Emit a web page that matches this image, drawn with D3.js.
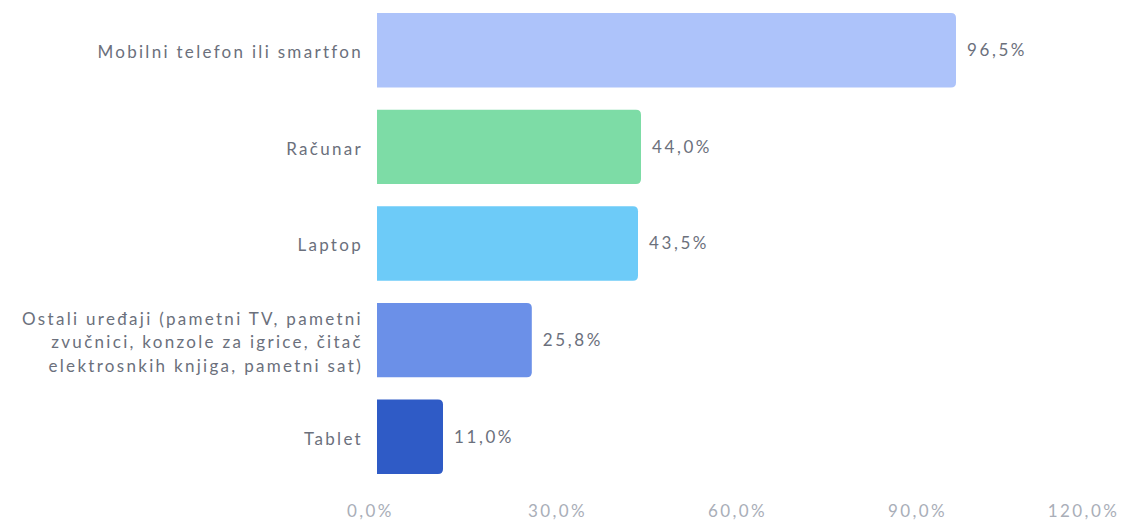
<!DOCTYPE html>
<html>
<head>
<meta charset="utf-8">
<script src="https://cdn.jsdelivr.net/npm/d3@7"></script>
<style>
  html, body { margin: 0; padding: 0; background: #ffffff; }
  svg { display: block; }
  text { font-family: "Lato", "Noto Sans", sans-serif; }
</style>
</head>
<body>
<svg id="chart" width="1128" height="523"></svg>
<script>
// Device usage shares (percent)
const categories = [
  "Mobilni telefon ili smartfon",
  "Računar",
  "Laptop",
  "Ostali uređaji (pametni TV, pametni|zvučnici, konzole za igrice, čitač|elektrosnkih knjiga, pametni sat)",
  "Tablet"
];
const values = [96.5, 44.0, 43.5, 25.8, 11.0];
const barColors = ["#adc3fa", "#7ddca6", "#6dcbf8", "#6b90e8", "#2f5bc6"];
const tickValues = [0, 30, 60, 90, 120];

const fmt = v => v.toFixed(1).replace(".", ",") + "%";

const svg = d3.select("#chart");
const left = 377, right = 1097;

const x = d3.scaleLinear().domain([0, 120]).range([left, right]);
const y = d3.scaleBand()
  .domain(categories)
  .range([2, 485])
  .paddingInner(0.23)
  .paddingOuter(0.115);

// bar shape with rounded right-hand corners
function barPath(x0, y0, w, h, r) {
  r = Math.min(r, w, h / 2);
  return `M${x0},${y0}H${x0 + w - r}Q${x0 + w},${y0} ${x0 + w},${y0 + r}` +
         `V${y0 + h - r}Q${x0 + w},${y0 + h} ${x0 + w - r},${y0 + h}H${x0}Z`;
}

svg.append("g").selectAll("path")
  .data(categories)
  .join("path")
  .attr("d", (c, i) => barPath(x(0), y(c), x(values[i]) - x(0), y.bandwidth(), 5))
  .attr("fill", (c, i) => barColors[i]);

// value labels
svg.append("g").selectAll("text")
  .data(categories)
  .join("text")
  .attr("x", (c, i) => x(values[i]) + 11)
  .attr("y", c => y(c) + y.bandwidth() / 2)
  .attr("dy", "0.35em")
  .attr("fill", "#6b707c")
  .attr("font-size", 17)
  .attr("letter-spacing", 2.6)
  .text((c, i) => fmt(values[i]));

// category labels (multi-line where needed)
const catG = svg.append("g");
categories.forEach(c => {
  const lines = c.split("|");
  const lh = 23.5;
  const cy = y(c) + y.bandwidth() / 2 + 2;
  const t = catG.append("text")
    .attr("text-anchor", "end")
    .attr("fill", "#6b707c")
    .attr("font-size", 17)
    .attr("letter-spacing", 2.3);
  lines.forEach((ln, k) => {
    t.append("tspan")
      .attr("x", 363)
      .attr("y", cy + (k - (lines.length - 1) / 2) * lh)
      .attr("dy", "0.35em")
      .text(ln);
  });
});

// x axis tick labels
const xAxis = d3.axisBottom(x).tickValues(tickValues).tickFormat(fmt).tickSize(0).tickPadding(0);
const ax = svg.append("g").attr("transform", "translate(0,505)").call(xAxis);
ax.select(".domain").remove();
ax.selectAll("text")
  .attr("fill", "#a9aeb8")
  .attr("font-size", 17)
  .attr("letter-spacing", 2.4)
  .attr("font-family", "Lato, 'Noto Sans', sans-serif");
ax.selectAll(".tick").filter(d => d === 0).select("text").attr("dx", -7);
// keep the last tick label inside the canvas
ax.selectAll(".tick").filter(d => d === 120).select("text").attr("dx", -14);
</script>
</body>
</html>
